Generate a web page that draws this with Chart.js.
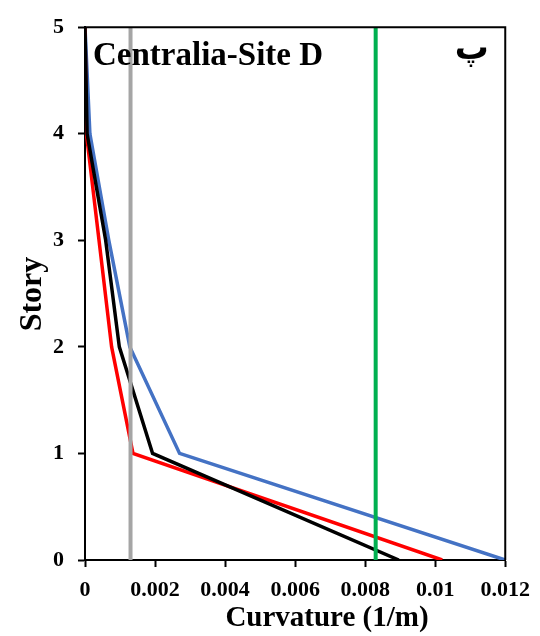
<!DOCTYPE html>
<html>
<head>
<meta charset="utf-8">
<script src="https://cdn.jsdelivr.net/npm/chart.js@4.4.1/dist/chart.umd.min.js"></script>
<style>
    html, body { margin: 0; padding: 0; background: #fff; }
    #wrap { width: 540px; height: 636px; position: relative; }
</style>
</head>
<body>
<div id="wrap"><canvas id="chart-curvature"></canvas></div>
<script>
// story levels and curvature per story (1/m)
const stories = [0, 1, 2, 3, 4, 5];
const curvBlack = [0.00896, 0.00193, 0.00098, 0.00059, 0.00006, 0];
const curvRed = [0.0102, 0.00137, 0.00076, 0.0004, 0.00004, 0];
const curvBlue = [0.012, 0.0027, 0.00128, 0.00068, 0.00014, 0];

// limit lines
const limitGray = 0.0013;
const limitGreen = 0.0083;

const xTicks = [0, 0.002, 0.004, 0.006, 0.008, 0.01, 0.012];
const yTicks = [0, 1, 2, 3, 4, 5];

const FONT = '"Liberation Serif", "Times New Roman", serif';

function toPoints(xs) {
    return stories.map((s, i) => ({ x: xs[i], y: s }));
}

function vLine(x) {
    return [{ x: x, y: 0 }, { x: x, y: 5 }];
}

const frameAndLabels = {
    id: 'frameAndLabels',
    afterDraw(chart) {
        const { ctx, chartArea: a } = chart;
        ctx.save();
        // top and right frame
        ctx.strokeStyle = '#000';
        ctx.lineWidth = 2;
        ctx.beginPath();
        ctx.moveTo(a.left, a.top);
        ctx.lineTo(a.right, a.top);
        ctx.lineTo(a.right, a.bottom);
        ctx.stroke();

        ctx.fillStyle = '#000';
        ctx.font = 'bold 33px ' + FONT;
        ctx.textAlign = 'left';
        ctx.textBaseline = 'alphabetic';
        ctx.fillText('Centralia-Site D', 93, 65);

        ctx.font = 'bold 34px "DejaVu Sans", ' + FONT;
        ctx.textAlign = 'right';
        ctx.fillText('پ', 489, 59);

        ctx.font = 'bold 29px ' + FONT;
        ctx.textAlign = 'center';
        ctx.fillText('Curvature (1/m)', 327, 626);

        ctx.font = 'bold 32px ' + FONT;
        ctx.translate(41, 294);
        ctx.rotate(-Math.PI / 2);
        ctx.fillText('Story', 0, 0);
        ctx.restore();
    }
};

new Chart(document.getElementById('chart-curvature'), {
    type: 'scatter',
    data: {
        datasets: [
            { data: vLine(limitGreen), borderColor: '#00B050', borderWidth: 4 },
            { data: vLine(limitGray), borderColor: '#A5A5A5', borderWidth: 4 },
            { data: toPoints(curvBlack), borderColor: '#000000', borderWidth: 3.5 },
            { data: toPoints(curvRed), borderColor: '#FF0000', borderWidth: 3.5 },
            { data: toPoints(curvBlue), borderColor: '#4472C4', borderWidth: 3.5 }
        ].map(d => Object.assign(d, { showLine: true, pointRadius: 0, fill: false, tension: 0 }))
    },
    options: {
        responsive: true,
        maintainAspectRatio: false,
        animation: false,
        events: [],
        layout: { padding: { left: 0, right: 34, top: 27, bottom: 0 } },
        plugins: {
            legend: { display: false },
            tooltip: { enabled: false }
        },
        scales: {
            x: {
                type: 'linear',
                min: 0,
                max: 0.012,
                afterBuildTicks: s => { s.ticks = xTicks.map(v => ({ value: v })); },
                afterFit: s => { s.height = 76; },
                grid: { drawOnChartArea: false, tickLength: 7, color: '#000', tickWidth: 2 },
                border: { color: '#000', width: 2 },
                ticks: {
                    color: '#000',
                    padding: 10,
                    maxRotation: 0,
                    font: { family: FONT, size: 22, weight: 'bold' },
                    callback: v => String(v)
                }
            },
            y: {
                type: 'linear',
                min: 0,
                max: 5,
                afterBuildTicks: s => { s.ticks = yTicks.map(v => ({ value: v })); },
                afterFit: s => { s.width = 85; },
                grid: { drawOnChartArea: false, tickLength: 7, color: '#000', tickWidth: 2 },
                border: { color: '#000', width: 2 },
                ticks: {
                    color: '#000',
                    padding: 14,
                    font: { family: FONT, size: 22, weight: 'bold' }
                }
            }
        }
    },
    plugins: [frameAndLabels]
});
</script>
</body>
</html>
